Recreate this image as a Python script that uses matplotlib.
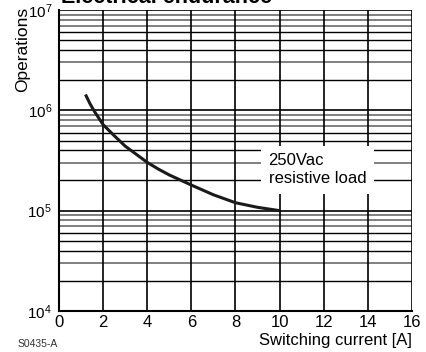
import numpy as np
import matplotlib
matplotlib.use('Agg')
import matplotlib.pyplot as plt
from matplotlib.ticker import FixedLocator, FuncFormatter

plt.rcParams['font.family'] = ['Liberation Sans', 'DejaVu Sans']
plt.rcParams['mathtext.fontset'] = 'custom'
plt.rcParams['mathtext.rm'] = 'Liberation Sans'
plt.rcParams['mathtext.default'] = 'regular'

# curve
current = [1.2, 1.4, 1.6, 2.0, 2.5, 3.0, 3.5, 4.0, 4.5, 5.0, 6.0, 7.0, 8.0, 9.0, 10.0]
operations = [1.44e6, 1.17e6, 9.8e5, 7.2e5, 5.6e5, 4.4e5, 3.65e5, 3.03e5, 2.6e5, 2.27e5,
              1.8e5, 1.44e5, 1.2e5, 1.08e5, 1.0e5]

x_ticks = [0, 2, 4, 6, 8, 10, 12, 14, 16]
decades = [1e4, 1e5, 1e6, 1e7]
dark_minor = [2, 4, 5, 6]
gray_minor = [3, 7, 8, 9]

fig = plt.figure(figsize=(4.26, 3.52), dpi=100)
ax = fig.add_axes([0.1385, 0.1165, 0.8285, 0.855])
ax.set_yscale('log')
ax.set_xlim(0, 16)
ax.set_ylim(1e4, 1e7)

for d in decades[:-1]:
    for m in dark_minor:
        ax.axhline(d * m, color='black', lw=1.0, zorder=1)
    for m in gray_minor:
        ax.axhline(d * m, color='#808080', lw=1.4, zorder=1)
for d in decades:
    ax.axhline(d, color='black', lw=1.2, zorder=1)
for xv in x_ticks[1:]:
    ax.axvline(xv, color='black', lw=1.2, zorder=1)

ax.plot(current, operations, color='#1a1a1a', lw=2.2, zorder=3,
        solid_capstyle='butt', solid_joinstyle='round')

ax.text(9.5, 2.55e5, '250Vac\nresistive load', fontsize=12, ha='left', va='center',
        linespacing=1.25, zorder=4,
        bbox=dict(boxstyle='square,pad=0.45', facecolor='white', edgecolor='none'))

ax.xaxis.set_major_locator(FixedLocator(x_ticks))
ax.yaxis.set_major_locator(FixedLocator(decades))
ax.yaxis.set_minor_locator(FixedLocator([]))
ax.yaxis.set_major_formatter(FuncFormatter(lambda v, p: '10$^{%d}$' % round(np.log10(v))))
ax.tick_params(axis='both', length=0, labelsize=12, pad=4)
ax.tick_params(axis='y', labelsize=11, pad=5)
ax.tick_params(axis='x', pad=3)
for s in ['top', 'right']:
    ax.spines[s].set_visible(False)
for s in ['left', 'bottom']:
    ax.spines[s].set_linewidth(1.5)

fig.text(0.052, 0.98, 'Operations', rotation=90, ha='center', va='top', fontsize=12.5)
fig.text(0.967, 0.012, 'Switching current [A]', ha='right', va='bottom', fontsize=12)
fig.text(0.042, 0.008, 'S0435-A', ha='left', va='bottom', fontsize=7.5, color='#333333')
fig.text(0.39, 0.978, 'Electrical endurance', ha='center', va='bottom', fontsize=15.5,
         fontweight='bold')

fig.savefig('out.png', dpi=100)
